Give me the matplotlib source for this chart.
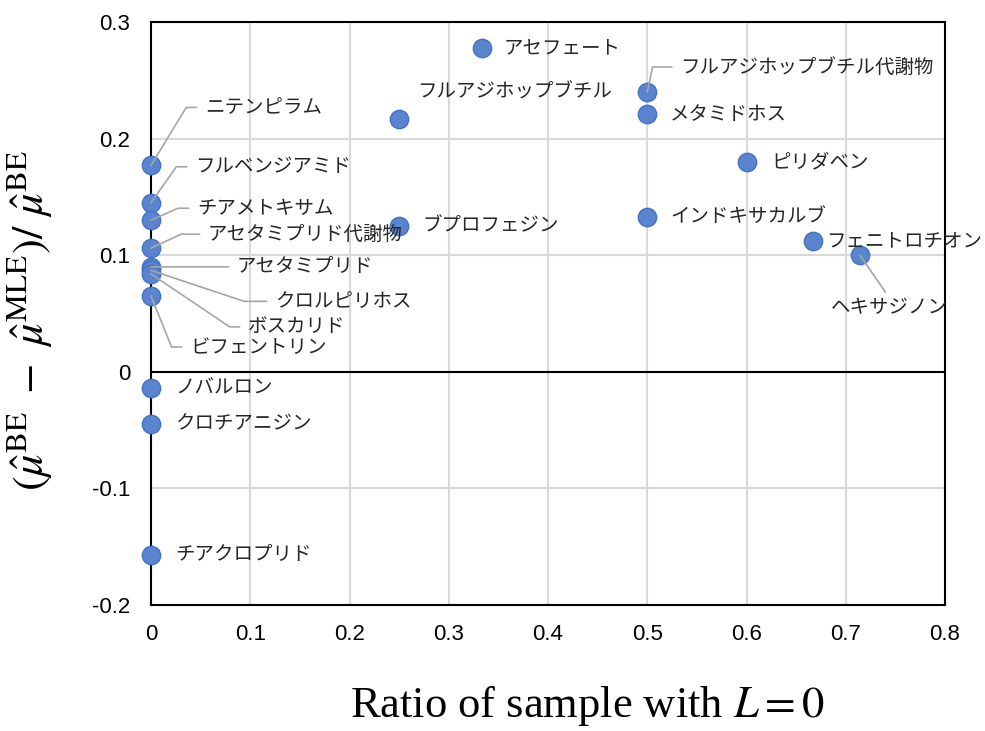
import matplotlib
matplotlib.use('Agg')
from matplotlib import pyplot as plt


OUTPUT_FILE = 'out.png'

# one entry per pesticide: ratio of samples with L = 0, relative gap of the estimators
names = ['アセフェート', 'フルアジホップブチル代謝物', 'メタミドホス', 'フルアジホップブチル',
         'ピリダベン', 'インドキサカルブ', 'ブプロフェジン', 'フェニトロチオン', 'ヘキサジノン',
         'ニテンピラム', 'フルベンジアミド', 'チアメトキサム', 'アセタミプリド代謝物',
         'アセタミプリド', 'クロルピリホス', 'ボスカリド', 'ビフェントリン',
         'ノバルロン', 'クロチアニジン', 'チアクロプリド']
ratio_zero = [1/3, 0.5, 0.5, 0.25,
              0.6, 0.5, 0.25, 2/3, 5/7,
              0, 0, 0, 0,
              0, 0, 0, 0,
              0, 0, 0]
rel_diff = [0.278, 0.240, 0.221, 0.217,
            0.180, 0.133, 0.125, 0.112, 0.100,
            0.177, 0.145, 0.130, 0.106,
            0.090, 0.087, 0.084, 0.065,
            -0.014, -0.045, -0.157]

x_ticks = [0, 0.1, 0.2, 0.3, 0.4, 0.5, 0.6, 0.7, 0.8]
x_tick_labels = ['0', '0.1', '0.2', '0.3', '0.4', '0.5', '0.6', '0.7', '0.8']
y_ticks = [-0.2, -0.1, 0, 0.1, 0.2, 0.3]
y_tick_labels = ['-0.2', '-0.1', '0', '0.1', '0.2', '0.3']

# label placement in pixels from the point (dx, dy up), and leader style:
# None = no leader, 'line' = straight leader, number = angle of the leader's first leg
label_layout = {
    'アセフェート': (22, 0, None),
    'フルアジホップブチル代謝物': (33, 25, 78),
    'メタミドホス': (23, 0, None),
    'フルアジホップブチル': (18, 27, None),
    'ピリダベン': (25, 0, None),
    'インドキサカルブ': (23, 0, None),
    'ブプロフェジン': (23, 0, None),
    'フェニトロチオン': (14, 0, None),
    'ヘキサジノン': (29, -51, 'below'),
    'ニテンピラム': (54, 58, 58.7),
    'フルベンジアミド': (44, 36, 54.8),
    'チアメトキサム': (46, 12, 24),
    'アセタミプリド代謝物': (57, 14, 25),
    'アセタミプリド': (86, 0, 'line'),
    'クロルピリホス': (124, -31, -18.4),
    'ボスカリド': (97, -53, -34),
    'ビフェントリン': (39, -51, -68),
    'ノバルロン': (24, 0, None),
    'クロチアニジン': (24, 0, None),
    'チアクロプリド': (24, 0, None),
}

plt.rcParams['font.family'] = ['Liberation Sans', 'DejaVu Sans']
plt.rcParams['mathtext.fontset'] = 'stix'

fig = plt.figure(figsize=(9.85, 7.31), dpi=100)
ax = fig.add_axes([151/985, 1 - 605/731, 794/985, 583/731])

ax.scatter(ratio_zero, rel_diff, s=175, c='#5b84cf', edgecolors='#4472c4',
           linewidths=1, zorder=4, clip_on=False)

leader = dict(arrowstyle='-', color='#a6a6a6', lw=1.2, shrinkA=4, shrinkB=0)
for name, x, y in zip(names, ratio_zero, rel_diff):
    dx, dy, style = label_layout[name]
    kw = dict(xy=(x, y), textcoords='offset pixels', fontsize=14,
              family=['Noto Sans CJK JP', 'DejaVu Sans'], color='#262626',
              va='center', ha='left', zorder=5, annotation_clip=False)
    if style is None:
        ax.annotate(name, xytext=(dx, dy), **kw)
    elif style == 'below':
        kw.update(ha='center', va='top')
        ax.annotate(name, xytext=(dx, dy + 9), **kw,
                    arrowprops=dict(leader, relpos=(0.5, 1.0), shrinkA=2))
    elif style == 'line':
        ax.annotate(name, xytext=(dx, dy), **kw,
                    arrowprops=dict(leader, relpos=(0, 0.5)))
    else:
        ax.annotate(name, xytext=(dx, dy), **kw,
                    arrowprops=dict(leader, relpos=(0, 0.5),
                                    connectionstyle=f'angle,angleA=0,angleB={style},rad=0'))

ax.set_xlim(0, 0.8)
ax.set_ylim(-0.2, 0.3)
ax.set_xticks(x_ticks, x_tick_labels)
ax.set_yticks(y_ticks, y_tick_labels)
ax.tick_params(length=0, labelsize=16, labelcolor='black')
ax.tick_params(axis='x', pad=14)
ax.tick_params(axis='y', pad=15)
ax.grid(True, color='#d9d9d9', lw=1.5)
ax.set_axisbelow(True)
ax.axhline(0, color='black', lw=1.5, zorder=2)
for sp in ax.spines.values():
    sp.set_linewidth(1.5)
    sp.set_color('black')

ax.set_xlabel('Ratio of sample with $L = 0$', family='Liberation Serif', fontsize=32,
              va='baseline')
ax.xaxis.set_label_coords(0.549, -0.192)
ax.set_ylabel(r'$(\hat{\mu}^{\mathrm{BE}}\ -\ \hat{\mu}^{\mathrm{MLE}})/\ \hat{\mu}^{\mathrm{BE}}$',
              fontsize=32, va='center')
ax.yaxis.set_label_coords(-0.152, 0.487)

plt.savefig(OUTPUT_FILE, dpi=100)
